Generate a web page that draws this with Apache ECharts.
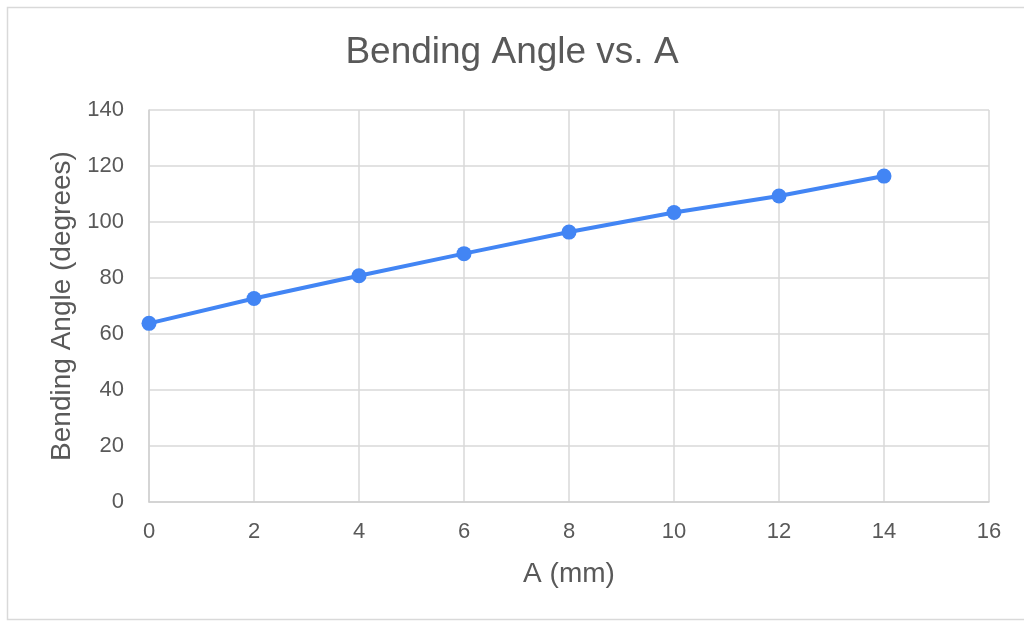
<!DOCTYPE html>
<html><head><meta charset="utf-8">
<script src="https://cdn.jsdelivr.net/npm/echarts@6/dist/echarts.min.js"></script>
<style>html,body{margin:0;padding:0;background:#fff}#c{width:1024px;height:621px}</style>
</head><body><div id="c"></div>
<script>
var xValues = [0, 2, 4, 6, 8, 10, 12, 14];
var angles = [63.8, 72.7, 80.8, 88.7, 96.4, 103.4, 109.3, 116.4];
var chart = echarts.init(document.getElementById('c'));
var font = '"Liberation Sans", Arial, sans-serif';
chart.setOption({
  animation: false,
  graphic: [{type:'rect', shape:{x:7.5,y:7.5,width:1100,height:612}, style:{fill:'none', stroke:'#d9d9d9', lineWidth:1.5}, silent:true}],
  title: {text:'Bending Angle vs. A', left:'center', top:29, textStyle:{fontFamily:font, fontSize:37, fontWeight:'normal', color:'#595959'}},
  grid: {left:149, right:35, top:110, bottom:119},
  xAxis: {type:'value', min:0, max:16, interval:2, name:'A (mm)', nameLocation:'middle', nameGap:58,
    nameTextStyle:{fontFamily:font, fontSize:28, color:'#595959'},
    axisLine:{show:true, lineStyle:{color:'#d0d0d0', width:1.5}}, axisTick:{show:false},
    axisLabel:{fontFamily:font, fontSize:22, color:'#595959', margin:19},
    splitLine:{show:true, lineStyle:{color:'#d9d9d9', width:1.5}}},
  yAxis: {type:'value', min:0, max:140, interval:20, name:'Bending Angle (degrees)', nameLocation:'middle', nameGap:73,
    nameTextStyle:{fontFamily:font, fontSize:28, color:'#595959'},
    axisLine:{show:true, lineStyle:{color:'#d0d0d0', width:1.5}}, axisTick:{show:false},
    axisLabel:{fontFamily:font, fontSize:22, color:'#595959', margin:25},
    splitLine:{show:true, lineStyle:{color:'#d9d9d9', width:1.5}}},
  series: [{type:'line', data: xValues.map(function(x,i){return [x, angles[i]];}),
    symbol:'circle', symbolSize:15, lineStyle:{color:'#4285F4', width:4}, itemStyle:{color:'#4285F4'}}]
});
</script></body></html>
